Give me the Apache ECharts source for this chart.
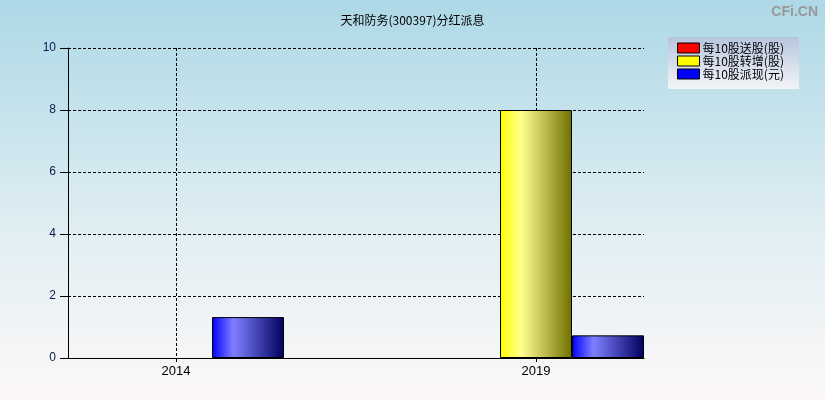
<!DOCTYPE html>
<html><head><meta charset="utf-8">
<script src="https://cdn.jsdelivr.net/npm/echarts@6/dist/echarts.min.js"></script>
<style>html,body{margin:0;padding:0;}#c{width:825px;height:400px;}</style>
</head><body><div id="c"></div>
<script>
const years = [2014, 2019];
const songGu = [0, 0];
const zhuanZeng = [0, 8];
const paiXian = [1.32, 0.73];
const seriesNames = ['每10股送股(股)', '每10股转增(股)', '每10股派现(元)'];
const yTicks = [0, 2, 4, 6, 8, 10];
const xRange = [2012.5, 2020.5];

function grad(c0, c1, c2) {
  return new echarts.graphic.LinearGradient(0, 0, 1, 0, [
    {offset: 0, color: c0}, {offset: 0.3, color: c1}, {offset: 1, color: c2}
  ]);
}
function mk(vals) {
  return vals.map((v, i) => ({value: [years[i], v], itemStyle: v === 0 ? {borderWidth: 0, opacity: 0} : {}}));
}
const chart = echarts.init(document.getElementById('c'), null, {renderer: 'canvas'});
const font = '"Noto Sans CJK SC", "Liberation Sans", sans-serif';
const barCommon = {type: 'bar', barGap: '0%', barWidth: 72};
chart.setOption({
  animation: false,
  backgroundColor: new echarts.graphic.LinearGradient(0, 0, 0, 1, [
    {offset: 0, color: '#add8e6'}, {offset: 0.6, color: '#e2eff3'}, {offset: 1, color: '#fdf8f8'}
  ]),
  title: [{
    text: '天和防务(300397)分红派息', left: 'center', top: 9,
    textStyle: {fontSize: 12, fontWeight: 'normal', color: '#000', fontFamily: font}
  }, {
    text: 'CFi.CN', right: 2, top: 0,
    textStyle: {fontSize: 14, fontWeight: 'bold', color: '#999', fontFamily: 'Liberation Sans'}
  }],
  legend: {
    orient: 'vertical', left: 668, top: 37,
    padding: [5, 15, 9, 9], itemGap: 1, itemWidth: 22, itemHeight: 10, icon: 'rect',
    backgroundColor: new echarts.graphic.LinearGradient(0, 0, 0, 1, [
      {offset: 0, color: '#b6c6de'}, {offset: 1, color: '#f4f4f8'}
    ]),
    textStyle: {fontSize: 12, lineHeight: 12, color: '#000', fontFamily: font, padding: [0, 0, 0, -2]},
    data: [
      {name: seriesNames[0], itemStyle: {color: '#ff0000', borderColor: '#000', borderWidth: 1}},
      {name: seriesNames[1], itemStyle: {color: '#ffff00', borderColor: '#000', borderWidth: 1}},
      {name: seriesNames[2], itemStyle: {color: '#0000ff', borderColor: '#000', borderWidth: 1}}
    ]
  },
  grid: {left: 68, right: 181, top: 48, bottom: 42, containLabel: false},
  xAxis: {
    type: 'value', min: xRange[0], max: xRange[1],
    axisLine: {show: true, lineStyle: {color: '#000', width: 1}},
    axisTick: {show: true, customValues: years, length: 4, lineStyle: {color: '#000'}},
    axisLabel: {customValues: years, formatter: v => String(v), fontSize: 13, color: '#000', fontFamily: 'Liberation Sans', margin: 7},
    splitLine: {show: true, customValues: years, lineStyle: {color: '#000', type: [3, 2], width: 1}}
  },
  yAxis: {
    type: 'value', min: yTicks[0], max: yTicks[yTicks.length - 1], interval: 2,
    axisLine: {show: true, lineStyle: {color: '#000', width: 1}},
    axisTick: {show: true, length: 8, lineStyle: {color: '#000'}},
    axisLabel: {fontSize: 12, color: '#0a1a50', fontFamily: 'Liberation Sans', margin: 12},
    splitLine: {show: true, lineStyle: {color: '#000', type: [3, 2], width: 1}}
  },
  series: [
    Object.assign({name: seriesNames[0], data: mk(songGu),
     itemStyle: {color: grad('#ff0000', '#ff8080', '#600000'), borderColor: '#000', borderWidth: 1}}, barCommon),
    Object.assign({name: seriesNames[1], data: mk(zhuanZeng),
     itemStyle: {color: grad('#ffff00', '#ffff90', '#707000'), borderColor: '#000', borderWidth: 1}}, barCommon),
    Object.assign({name: seriesNames[2], data: mk(paiXian),
     itemStyle: {color: grad('#0000ff', '#8080ff', '#000060'), borderColor: '#000', borderWidth: 1}}, barCommon)
  ]
});
</script></body></html>
